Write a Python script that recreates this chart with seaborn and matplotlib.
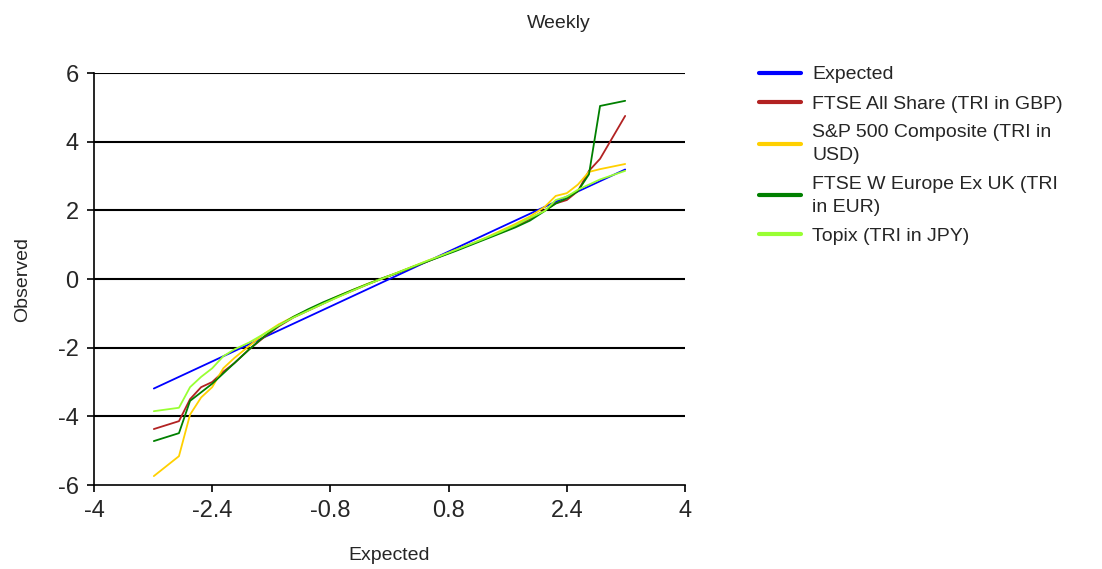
import matplotlib
matplotlib.use("Agg")
import matplotlib.pyplot as plt
import seaborn as sns
import pandas as pd
import numpy as np

# Expected normal quantiles (x positions of the Q-Q points)
expected = [-3.19, -2.85, -2.7, -2.55, -2.4, -2.25, -2.1, -1.9, -1.7, -1.5, -1.3, -1.1,
            -0.9, -0.7, -0.5, -0.3, -0.1, 0.1, 0.3, 0.5, 0.7, 0.9, 1.1, 1.3, 1.5,
            1.7, 1.9, 2.1, 2.25, 2.4, 2.55, 2.7, 2.85, 3.19]

ftse_all = [-4.37, -4.14, -3.5, -3.15, -3.0, -2.7, -2.45, -2.05, -1.7, -1.38, -1.12, -0.92,
            -0.72, -0.52, -0.34, -0.16, 0.01, 0.17, 0.34, 0.5, 0.67, 0.84, 1.01, 1.18, 1.35,
            1.53, 1.75, 2.0, 2.2, 2.3, 2.56, 3.15, 3.5, 4.75]
sp500 = [-5.74, -5.16, -3.95, -3.45, -3.15, -2.6, -2.3, -1.95, -1.6, -1.32, -1.1, -0.9,
         -0.7, -0.5, -0.32, -0.14, 0.02, 0.18, 0.35, 0.52, 0.68, 0.85, 1.02, 1.2, 1.4,
         1.6, 1.82, 2.1, 2.42, 2.5, 2.75, 3.12, 3.2, 3.35]
ftse_weu = [-4.72, -4.49, -3.55, -3.3, -3.05, -2.75, -2.45, -2.05, -1.68, -1.36, -1.1, -0.88,
            -0.68, -0.5, -0.32, -0.15, 0.02, 0.17, 0.34, 0.5, 0.66, 0.82, 0.99, 1.16, 1.33,
            1.5, 1.7, 1.98, 2.2, 2.35, 2.56, 3.05, 5.04, 5.19]
topix = [-3.85, -3.75, -3.15, -2.85, -2.6, -2.25, -2.05, -1.85, -1.6, -1.35, -1.12, -0.92,
         -0.72, -0.53, -0.34, -0.16, 0.01, 0.18, 0.35, 0.52, 0.68, 0.85, 1.02, 1.19, 1.37,
         1.56, 1.78, 1.98, 2.3, 2.4, 2.6, 2.75, 2.9, 3.15]

series_names = ["Expected", "FTSE All Share (TRI in GBP)", "S&P 500 Composite (TRI in\nUSD)",
                "FTSE W Europe Ex UK (TRI\nin EUR)", "Topix (TRI in JPY)"]
colors = ["#0000FF", "#B22222", "#FFD000", "#008000", "#99FF33"]
x_ticks = [-4, -2.4, -0.8, 0.8, 2.4, 4]
x_tick_labels = ["-4", "-2.4", "-0.8", "0.8", "2.4", "4"]
y_ticks = [-6, -4, -2, 0, 2, 4, 6]
y_tick_labels = ["-6", "-4", "-2", "0", "2", "4", "6"]

frames = []
for name, vals in zip(series_names, [expected, ftse_all, sp500, ftse_weu, topix]):
    frames.append(pd.DataFrame({"Expected": expected, "Observed": vals, "Series": name}))
df = pd.concat(frames, ignore_index=True)

sns.set_style("white")
plt.rcParams["font.family"] = ["Liberation Sans", "DejaVu Sans"]
plt.rcParams["axes.unicode_minus"] = False

fig = plt.figure(figsize=(11.02, 5.69), dpi=100)
ax = fig.add_axes([0.0853, 0.1476, 0.5363, 0.7241])

sns.lineplot(data=df, x="Expected", y="Observed", hue="Series", hue_order=series_names,
             palette=colors, sort=False, linewidth=1.3, ax=ax, legend=True)

ax.set_xlim(-4, 4)
ax.set_ylim(-6, 6)
ax.set_xticks(x_ticks)
ax.set_xticklabels(x_tick_labels)
ax.set_yticks(y_ticks)
ax.set_yticklabels(y_tick_labels)
ax.tick_params(axis="both", labelsize=17, length=5, width=1.2, color="black", direction="out",
               bottom=True, left=True, pad=6)
for yv in y_ticks[1:]:
    ax.axhline(yv, color="black", linewidth=1.5, zorder=0)
for side in ["top", "right"]:
    ax.spines[side].set_visible(False)
for side in ["left", "bottom"]:
    ax.spines[side].set_color("black")
    ax.spines[side].set_linewidth(1.2)
ax.set_xlabel("Expected", fontsize=14, labelpad=18)
ax.set_ylabel("Observed", fontsize=14, labelpad=19)
fig.text(0.507, 0.958, "Weekly", fontsize=14, ha="center", va="center")

handles, labels = ax.get_legend_handles_labels()
for h in handles:
    h.set_linewidth(3)
leg = ax.legend(handles, labels, loc="upper left", bbox_to_anchor=(1.095, 1.06), frameon=False,
                fontsize=14, handlelength=2.2, handletextpad=0.55, labelspacing=0.6)
for t in leg.get_texts():
    t.set_linespacing(1.45)

fig.savefig("out.png", dpi=100)
